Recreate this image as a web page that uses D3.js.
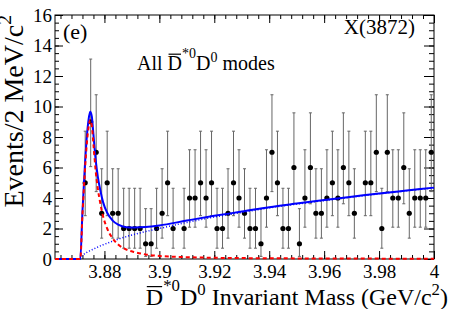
<!DOCTYPE html>
<html>
<head>
<meta charset="utf-8">
<script src="https://cdn.jsdelivr.net/npm/d3@7"></script>
<style>
  body { margin: 0; background: #fff; }
  text { font-family: "Liberation Serif", "Times New Roman", serif; fill: #000; }
</style>
</head>
<body>
<div id="chart"></div>
<script>
// SVG size and the frame of the plot area
var svgWidth = 457;
var svgHeight = 309;
var margin = { top: 15, right: 23, bottom: 50, left: 55 };
var chartWidth = svgWidth - margin.left - margin.right;
var chartHeight = svgHeight - margin.top - margin.bottom;
var serif = "'Liberation Serif', 'Times New Roman', serif";

// histogram: 2 MeV bin centres (GeV/c^2) and event counts
var binCenters = [3.873, 3.875, 3.877, 3.879, 3.881, 3.883, 3.885, 3.887, 3.889, 3.891,
  3.893, 3.895, 3.897, 3.899, 3.901, 3.903, 3.905, 3.907, 3.909, 3.911,
  3.913, 3.915, 3.917, 3.919, 3.921, 3.923, 3.925, 3.927, 3.929, 3.931,
  3.933, 3.935, 3.937, 3.939, 3.941, 3.943, 3.945, 3.947, 3.949, 3.951,
  3.953, 3.955, 3.957, 3.959, 3.961, 3.963, 3.965, 3.967, 3.969, 3.971,
  3.973, 3.975, 3.977, 3.979, 3.981, 3.983, 3.985, 3.987, 3.989, 3.991,
  3.993, 3.995, 3.997, 3.999];
var counts = [5, 9, 7, 3, 5, 3, 3, 2, 2, 2,
  2, 1, 1, 2, 3, 5, 2, 0, 2, 4,
  4, 5, 4, 5, 2, 2, 3, 5, 4, 3,
  2, 2, 1, 4, 7, 5, 2, 2, 6, 1,
  4, 6, 3, 3, 4, 5, 4, 6, 5, 3,
  0, 5, 5, 7, 2, 7, 4, 4, 6, 3,
  4, 4, 4, 7];

// Poisson (Garwood) 68% interval edges for n = 0..9
var poissonLow = [0, 0.173, 0.708, 1.367, 2.086, 2.840, 3.620, 4.419, 5.232, 6.057];
var poissonHigh = [1.841, 3.300, 4.638, 5.918, 7.163, 8.382, 9.584, 10.77, 11.95, 13.11];

// fit curves
var curveMass = [3.8620, 3.8712, 3.8720, 3.8728, 3.8736, 3.8742, 3.8748, 3.8754, 3.8760, 3.8768,
  3.8776, 3.8785, 3.8795, 3.8810, 3.8830, 3.8850, 3.8880, 3.8910, 3.8950, 3.9000,
  3.9100, 3.9200, 3.9300, 3.9400, 3.9500, 3.9600, 3.9700, 3.9800, 3.9900, 4.0000];
var signalVals = [0, 0, 2.9, 5.5, 7.6, 8.6, 9.1, 8.75, 7.5, 5.8,
  4.6, 3.65, 2.8, 2.0, 1.35, 0.95, 0.62, 0.45, 0.3, 0.2,
  0.12, 0.08, 0.06, 0.05, 0.04, 0.035, 0.03, 0.025, 0.02, 0.02];
var bkgVals = [null, 0, 0.22, 0.35, 0.44, 0.5, 0.55, 0.6, 0.65, 0.72,
  0.79, 0.86, 0.93, 1.03, 1.17, 1.3, 1.47, 1.62, 1.8, 2.0,
  2.4, 2.75, 3.05, 3.35, 3.6, 3.83, 4.05, 4.27, 4.47, 4.66];
var totalVals = [0, 0, 3.12, 5.85, 8.04, 9.1, 9.65, 9.35, 8.15, 6.52,
  5.39, 4.51, 3.73, 3.03, 2.52, 2.25, 2.09, 2.07, 2.1, 2.2,
  2.52, 2.83, 3.11, 3.4, 3.64, 3.87, 4.08, 4.3, 4.49, 4.68];

// axis ticks
var xMajor = [3.88, 3.90, 3.92, 3.94, 3.96, 3.98, 4.00];
var xMinor = d3.range(3.864, 4.0001, 0.004);
var yMajor = [0, 2, 4, 6, 8, 10, 12, 14, 16];
var yMinor = d3.range(0, 16.01, 0.5);

var svg = d3.select("#chart").append("svg")
  .attr("width", svgWidth)
  .attr("height", svgHeight);

var chartGroup = svg.append("g")
  .attr("transform", `translate(${margin.left}, ${margin.top})`);

var xScale = d3.scaleLinear().domain([3.862, 4.0]).range([0, chartWidth]);
var yScale = d3.scaleLinear().domain([0, 16]).range([chartHeight, 0]);

// ticks on all four sides, pointing inwards
function drawAxis(axisFn, scale, major, minor, majLen, minLen, transform, withLabels, fmt) {
  var g = chartGroup.append("g").attr("transform", transform);
  g.append("g").call(axisFn(scale).tickValues(minor).tickSize(-minLen).tickSizeOuter(0).tickFormat(""));
  var maj = g.append("g").call(axisFn(scale).tickValues(major).tickSize(-majLen).tickSizeOuter(0)
    .tickPadding(withLabels ? 6 : 0).tickFormat(withLabels ? fmt : ""));
  g.selectAll(".domain").remove();
  g.selectAll("line").attr("stroke", "#000").attr("stroke-width", 1);
  maj.attr("font-family", serif).attr("font-size", 19);
  maj.selectAll("text").style("font-family", serif).style("font-size", "19px");
  return maj;
}
drawAxis(d3.axisBottom, xScale, xMajor, xMinor, 8, 4, `translate(0,${chartHeight})`, true, d => String(+d.toFixed(2)));
drawAxis(d3.axisTop, xScale, xMajor, xMinor, 8, 4, "translate(0,0)", false);
var yAx = drawAxis(d3.axisLeft, yScale, yMajor, yMinor, 8, 4, "translate(0,0)", true, d => String(d));
yAx.selectAll("text").attr("x", -3);
drawAxis(d3.axisRight, yScale, yMajor, yMinor, 10, 5, `translate(${chartWidth},0)`, false);

// frame
chartGroup.append("rect")
  .attr("width", chartWidth).attr("height", chartHeight)
  .attr("fill", "none").attr("stroke", "#000").attr("stroke-width", 1);

// data points with Poisson error bars
var pts = binCenters.map((m, i) => ({ m: m, n: counts[i] })).filter(d => d.n > 0);
var errGrp = chartGroup.append("g").attr("stroke", "#666").attr("stroke-width", 1);
errGrp.selectAll("line.bar").data(pts).enter().append("line")
  .attr("x1", d => xScale(d.m)).attr("x2", d => xScale(d.m))
  .attr("y1", d => yScale(poissonLow[d.n])).attr("y2", d => yScale(poissonHigh[d.n]));
errGrp.selectAll("line.top").data(pts).enter().append("line")
  .attr("x1", d => xScale(d.m) - 1.5).attr("x2", d => xScale(d.m) + 1.5)
  .attr("y1", d => yScale(poissonHigh[d.n])).attr("y2", d => yScale(poissonHigh[d.n]));
errGrp.selectAll("line.bot").data(pts).enter().append("line")
  .attr("x1", d => xScale(d.m) - 1.5).attr("x2", d => xScale(d.m) + 1.5)
  .attr("y1", d => yScale(poissonLow[d.n])).attr("y2", d => yScale(poissonLow[d.n]));
chartGroup.append("g").selectAll("circle").data(pts).enter().append("circle")
  .attr("cx", d => xScale(d.m)).attr("cy", d => yScale(d.n))
  .attr("r", 2.6).attr("fill", "#000");

// fit curves
function curveLine(vals) {
  return d3.line()
    .defined((d, i) => vals[i] !== null)
    .x(d => xScale(d))
    .y((d, i) => yScale(vals[i]))
    .curve(d3.curveMonotoneX)(curveMass);
}
chartGroup.append("path").attr("d", curveLine(totalVals))
  .attr("fill", "none").attr("stroke", "#0000ff").attr("stroke-width", 2);
chartGroup.append("path").attr("d", curveLine(bkgVals))
  .attr("fill", "none").attr("stroke", "#0000ff").attr("stroke-width", 1.5)
  .attr("stroke-dasharray", "1,2");
chartGroup.append("path").attr("d", curveLine(signalVals))
  .attr("fill", "none").attr("stroke", "#ff0000").attr("stroke-width", 2)
  .attr("stroke-dasharray", "4,3");

// text with superscripts; returns the text selection
function richText(parent, parts, size) {
  var t = parent.append("text").attr("font-size", size);
  var raised = 0;
  parts.forEach(function(p) {
    var s = t.append("tspan").text(p.t);
    if (p.sup) {
      var up = p.up || 0.42;
      s.attr("font-size", size * 0.7).attr("dy", (-up * size) + "px");
      raised = up;
    } else if (raised) {
      s.attr("dy", (raised * size) + "px");
      raised = 0;
    }
  });
  return t;
}
// overline above the glyph at character index idx
function overline(textSel, idx) {
  var node = textSel.node();
  var box = node.getExtentOfChar(idx);
  d3.select(node.parentNode).append("line")
    .attr("transform", textSel.attr("transform"))
    .attr("x1", box.x + 1).attr("x2", box.x + box.width - 1)
    .attr("y1", box.y + box.height * 0.1).attr("y2", box.y + box.height * 0.1)
    .attr("stroke", "#000").attr("stroke-width", 1.2);
}

// y title
richText(svg, [{ t: "Events/2 MeV/c" }, { t: "2", sup: true }], 28)
  .attr("transform", "translate(23,15) rotate(-90)")
  .attr("text-anchor", "end");

// x title
var xTitle = richText(svg, [{ t: "D" }, { t: "*0", sup: true, up: 0.6 }, { t: "D" }, { t: "0", sup: true },
  { t: " Invariant Mass (GeV/c" }, { t: "2", sup: true }, { t: ")" }], 24)
  .attr("transform", "translate(448,305)")
  .attr("text-anchor", "end");
overline(xTitle, 0);

// labels inside the frame
svg.append("text").attr("x", 63).attr("y", 39).attr("font-size", 22).text("(e)");
svg.append("text").attr("x", 415).attr("y", 34).attr("font-size", 21)
  .attr("text-anchor", "end").text("X(3872)");
var modes = richText(svg, [{ t: "All " }, { t: "D" }, { t: "*0", sup: true, up: 0.6 }, { t: "D" },
  { t: "0", sup: true }, { t: " modes" }], 20)
  .attr("transform", "translate(137,70)");
overline(modes, 4);
</script>
</body>
</html>
